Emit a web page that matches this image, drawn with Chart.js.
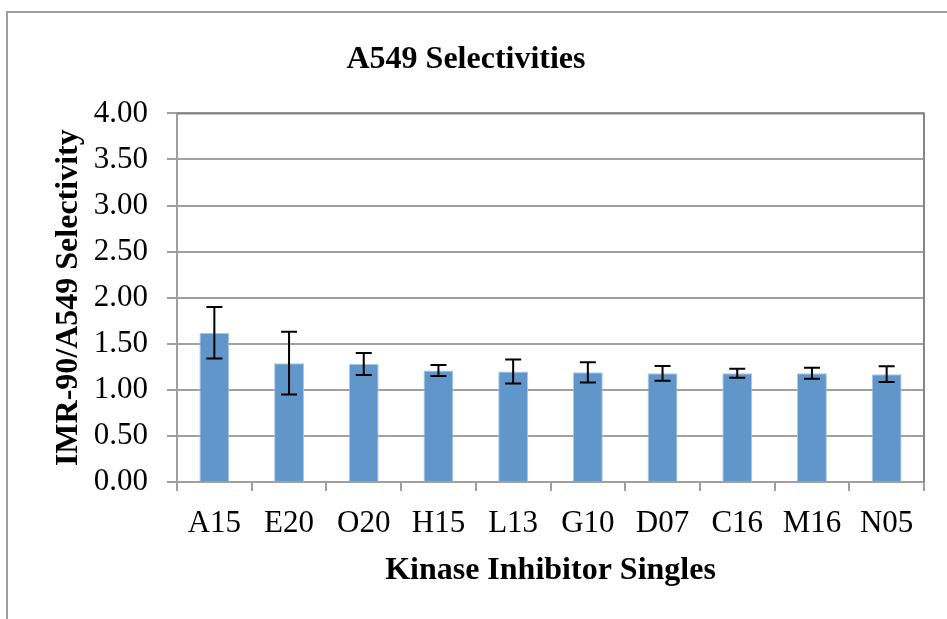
<!DOCTYPE html>
<html>
<head>
<meta charset="utf-8">
<script src="https://cdn.jsdelivr.net/npm/chart.js@4.4.1/dist/chart.umd.min.js"></script>
<style>
  html, body { margin: 0; padding: 0; background: #fff; overflow: hidden; }
  #frame {
    position: absolute; left: 6px; top: 11px;
    width: 950px; height: 606px;
    border-left: 2px solid #a0a0a0; border-top: 2px solid #a0a0a0;
  }
  canvas { display: block; }
</style>
</head>
<body>
<div id="frame"><canvas id="chart" width="950" height="606"></canvas></div>
<script>
// data
var categories = ['A15', 'E20', 'O20', 'H15', 'L13', 'G10', 'D07', 'C16', 'M16', 'N05'];
var selectivity = [1.62, 1.29, 1.28, 1.21, 1.20, 1.19, 1.18, 1.18, 1.18, 1.17];
var errors = [0.28, 0.34, 0.12, 0.06, 0.13, 0.11, 0.08, 0.05, 0.06, 0.085];
var yTicks = [0, 0.5, 1, 1.5, 2, 2.5, 3, 3.5, 4];

var serif = "'Liberation Serif', 'Times New Roman', serif";

// error bars + plot-area outline
var errorBars = {
  id: 'errorBars',
  afterDatasetsDraw: function (chart) {
    var ctx = chart.ctx;
    var meta = chart.getDatasetMeta(0);
    var y = chart.scales.y;
    ctx.save();
    ctx.strokeStyle = '#000';
    ctx.lineWidth = 2;
    meta.data.forEach(function (bar, i) {
      var v = selectivity[i], e = errors[i];
      var top = y.getPixelForValue(v + e);
      var bot = y.getPixelForValue(v - e);
      ctx.beginPath();
      ctx.moveTo(bar.x, top); ctx.lineTo(bar.x, bot);
      ctx.moveTo(bar.x - 8, top); ctx.lineTo(bar.x + 8, top);
      ctx.moveTo(bar.x - 8, bot); ctx.lineTo(bar.x + 8, bot);
      ctx.stroke();
    });
    var a = chart.chartArea;
    ctx.strokeStyle = '#858585';
    ctx.lineWidth = 2;
    ctx.beginPath();
    ctx.moveTo(a.left, a.top); ctx.lineTo(a.right, a.top); ctx.lineTo(a.right, a.bottom);
    ctx.stroke();
    ctx.restore();
  }
};

new Chart(document.getElementById('chart'), {
  type: 'bar',
  data: {
    labels: categories,
    datasets: [{
      data: selectivity,
      backgroundColor: '#6196CA',
      borderColor: '#a9c6e6',
      borderWidth: 1,
      barPercentage: 0.4,
      categoryPercentage: 1.0
    }]
  },
  options: {
    responsive: false,
    animation: false,
    layout: { padding: { left: 0, right: 34, top: 0, bottom: 0 } },
    plugins: {
      legend: { display: false },
      tooltip: { enabled: false },
      title: {
        display: true,
        text: 'A549 Selectivities',
        color: '#000',
        font: { family: serif, size: 32, weight: 'bold' },
        padding: { top: 28, bottom: 34 }
      }
    },
    scales: {
      x: {
        grid: { drawOnChartArea: false, color: '#a0a0a0', lineWidth: 2, tickLength: 9 },
        border: { color: '#a0a0a0', width: 2 },
        ticks: { color: '#000', font: { family: serif, size: 31 }, padding: 14, maxRotation: 0 },
        title: {
          display: true,
          text: 'Kinase Inhibitor Singles',
          color: '#000',
          font: { family: serif, size: 32, weight: 'bold' },
          padding: { top: 0, bottom: 29 }
        },
        afterFit: function (scale) { scale.height = 137; }
      },
      y: {
        min: 0,
        max: 4,
        afterBuildTicks: function (scale) {
          scale.ticks = yTicks.map(function (v) { return { value: v }; });
        },
        grid: { color: '#a0a0a0', lineWidth: 2, tickLength: 10 },
        border: { color: '#a0a0a0', width: 2 },
        ticks: {
          color: '#000',
          font: { family: serif, size: 31 },
          padding: 19,
          callback: function (v) { return Number(v).toFixed(2); }
        },
        title: {
          display: true,
          text: 'IMR-90/A549 Selectivity',
          color: '#000',
          font: { family: serif, size: 32, weight: 'bold' },
          padding: { top: 42, bottom: 0 }
        },
        afterFit: function (scale) { scale.width = 169; }
      }
    }
  },
  plugins: [errorBars]
});
</script>
</body>
</html>
